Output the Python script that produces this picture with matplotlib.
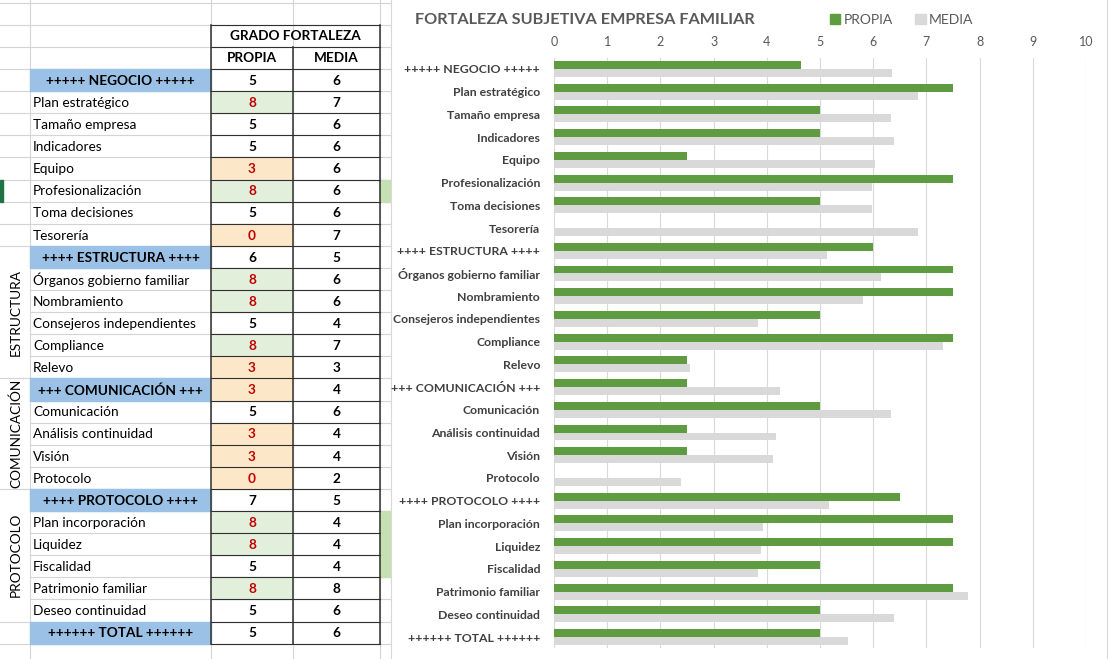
import numpy as np
import matplotlib.pyplot as plt
from matplotlib.patches import Rectangle, Patch

# Datos
categorias = [
    '+++++ NEGOCIO +++++', 'Plan estratégico', 'Tamaño empresa', 'Indicadores',
    'Equipo', 'Profesionalización', 'Toma decisiones', 'Tesorería',
    '++++ ESTRUCTURA ++++', 'Órganos gobierno familiar', 'Nombramiento',
    'Consejeros independientes', 'Compliance', 'Relevo',
    '+++ COMUNICACIÓN +++', 'Comunicación', 'Análisis continuidad', 'Visión', 'Protocolo',
    '++++ PROTOCOLO ++++', 'Plan incorporación', 'Liquidez', 'Fiscalidad',
    'Patrimonio familiar', 'Deseo continuidad', '++++++ TOTAL ++++++',
]
propia = [4.65, 7.5, 5, 5, 2.5, 7.5, 5, 0, 6, 7.5, 7.5, 5, 7.5, 2.5,
          2.5, 5, 2.5, 2.5, 0, 6.5, 7.5, 7.5, 5, 7.5, 5, 5]
media = [6.35, 6.85, 6.33, 6.4, 6.03, 5.98, 5.98, 6.85, 5.13, 6.15, 5.8, 3.83, 7.32, 2.55,
         4.25, 6.33, 4.17, 4.12, 2.38, 5.16, 3.93, 3.89, 3.83, 7.78, 6.4, 5.52]
cabeceras = [0, 8, 14, 19, 25]
grupos = [('ESTRUCTURA', 8, 13), ('COMUNICACIÓN', 14, 18), ('PROTOCOLO', 19, 24)]
filas_verdes_col_e = [5, 20, 21, 22]

# en la tabla se ve el valor redondeado
propia_tabla = [int(np.floor(v + 0.5)) for v in propia]
media_tabla = [int(np.floor(v + 0.5)) for v in media]

VERDE = '#5F9B41'
GRIS = '#D9D9D9'
AZUL = '#9BC2E6'
FUENTE = ['Lato', 'DejaVu Sans']

W, H = 1110, 659
fig = plt.figure(figsize=(W / 100, H / 100), dpi=100)

# fondo tipo hoja de Excel (coordenadas en pixeles)
bg = fig.add_axes([0, 0, 1, 1])
bg.set_xlim(0, W)
bg.set_ylim(H, 0)
bg.axis('off')

ROW0, RH = 69, 22.1
XA, XB, XC, XD, XE, XF = 0, 30, 211, 293, 380, 391
n = len(categorias)


def fila(i):
    return ROW0 + RH * i


# lineas de cuadricula
grid_kw = dict(color='#D4D4D4', lw=0.8, zorder=1)
for yy in [3, 25, 47]:
    bg.plot([XA, XF], [yy, yy], **grid_kw)
for k in range(n + 1):
    bg.plot([XB, XF], [fila(k), fila(k)], **grid_kw)
for k in list(range(0, 9)) + [14, 19, 25, 26]:
    bg.plot([XA, XB], [fila(k), fila(k)], **grid_kw)
for xx in [XB, XC, XD, XE, XF]:
    bg.plot([xx, xx], [0, H], **grid_kw)

# marca de fila seleccionada
bg.add_patch(Rectangle((0, fila(5)), 2.5, RH, color='#217346', zorder=2))

# celdas verdes de la columna E (tapadas por el grafico)
for i in filas_verdes_col_e:
    bg.add_patch(Rectangle((XE, fila(i)), XF - XE, RH, color='#C6E0B4', zorder=2))

# rellenos
for i in cabeceras:
    bg.add_patch(Rectangle((XB, fila(i)), XC - XB, RH, color=AZUL, zorder=2))
for i, v in enumerate(propia_tabla):
    if v >= 8:
        bg.add_patch(Rectangle((XC, fila(i)), XD - XC, RH, color='#E2EFDA', zorder=2))
    elif v <= 3:
        bg.add_patch(Rectangle((XC, fila(i)), XD - XC, RH, color='#FCE7C8', zorder=2))

# bordes negros de la tabla
borde_kw = dict(color='#303030', zorder=3)
for yy in [25, 47] + [fila(k) for k in range(n + 1)]:
    bg.plot([XC, XE], [yy, yy], lw=0.8, **borde_kw)
bg.plot([XC, XC], [25, fila(n)], lw=1.1, **borde_kw)
bg.plot([XD, XD], [47, fila(n)], lw=1.1, **borde_kw)
bg.plot([XE, XE], [25, fila(n)], lw=1.1, **borde_kw)

# textos de la tabla
tk = dict(family=FUENTE, fontsize=9.8, va='center', zorder=4)
bg.text((XC + XE) / 2, 36.5, 'GRADO FORTALEZA', ha='center', weight='bold', **tk)
bg.text((XC + XD) / 2, 58.5, 'PROPIA', ha='center', weight='bold', **tk)
bg.text((XD + XE) / 2, 58.5, 'MEDIA', ha='center', weight='bold', **tk)
for i, cat in enumerate(categorias):
    yc = fila(i) + RH / 2 + 0.8
    if i in cabeceras:
        bg.text((XB + XC) / 2, yc, cat, ha='center', weight='bold', **tk)
    else:
        bg.text(XB + 3, yc, cat, ha='left', **tk)
    vp = propia_tabla[i]
    col = '#C00000' if (vp >= 8 or vp <= 3) and not (i in cabeceras and vp > 3) else 'black'
    bg.text((XC + XD) / 2, yc, str(vp), ha='center', weight='bold', color=col, **tk)
    bg.text((XD + XE) / 2, yc, str(media_tabla[i]), ha='center', weight='bold', **tk)
for nombre, a, b in grupos:
    bg.text(16, (fila(a) + fila(b + 1)) / 2, nombre, rotation=90, ha='center',
            va='center', family=FUENTE, fontsize=9.8, zorder=4)

# area del grafico
bg.add_patch(Rectangle((XF, 0), 1107 - XF, H, facecolor='white', edgecolor='none', zorder=5))
bg.plot([XF, XF], [0, H], color='#D9D9D9', lw=0.8, zorder=6)
bg.plot([1107, 1107], [0, H], color='#D9D9D9', lw=0.8, zorder=6)

# grafico de barras
top, bottom, left, right = 57.6, 648.4, 554, 1086
ax = fig.add_axes([left / W, 1 - bottom / H, (right - left) / W, (bottom - top) / H])
ax.patch.set_alpha(0)
y = np.arange(n)
ax.barh(y - 0.175, propia, height=0.35, color=VERDE, zorder=3)
ax.barh(y + 0.175, media, height=0.35, color=GRIS, zorder=3)
ax.set_xlim(0, 10)
ax.set_ylim(n - 0.5, -0.5)
ax.set_xticks(range(11))
ax.xaxis.tick_top()
ax.tick_params(axis='x', length=0, pad=7, labelsize=9, labelcolor='#595959')
plt.setp(ax.get_xticklabels(), family=FUENTE)
ax.set_yticks(y)
ax.set_yticklabels(categorias, family=FUENTE, fontsize=8.8, fontweight='bold', color='#404040')
ax.tick_params(axis='y', length=0, pad=10)
ax.grid(axis='x', color=GRIS, lw=0.8, zorder=0)
ax.set_axisbelow(True)
for s in ax.spines.values():
    s.set_visible(False)

fig.text(415 / W, 1 - 19.5 / H, 'FORTALEZA SUBJETIVA EMPRESA FAMILIAR', family=FUENTE,
         fontsize=11.7, weight='bold', color='#595959', va='center', ha='left')
fig.legend(handles=[Patch(color=VERDE), Patch(color=GRIS)], labels=['PROPIA', 'MEDIA'],
           loc='center left', bbox_to_anchor=(830 / W, 1 - 20 / H), ncol=2, frameon=False,
           handlelength=0.75, handleheight=0.75, handletextpad=0.25, columnspacing=1.6,
           borderaxespad=0, borderpad=0, prop={'family': FUENTE, 'size': 10},
           labelcolor='#595959')

fig.savefig('out.png', dpi=100)
